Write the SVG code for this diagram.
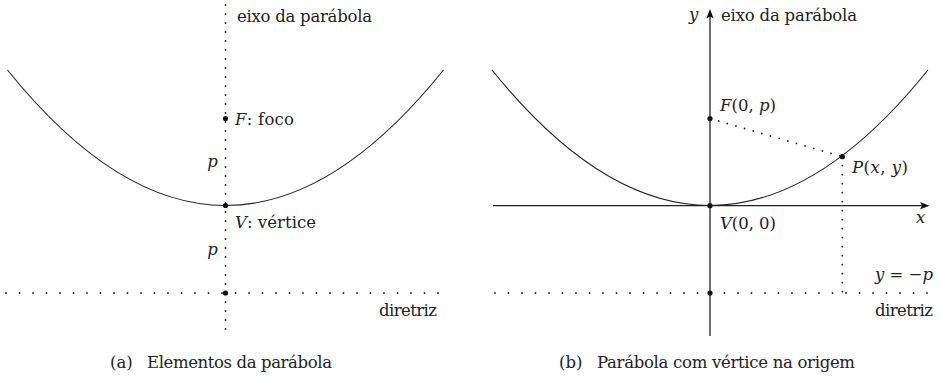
<svg xmlns="http://www.w3.org/2000/svg" width="941" height="377" viewBox="0 0 941 377">
<style>
text{font-family:'DejaVu Serif',serif;font-size:16.5px;fill:#222}
.m{font-style:italic}
.curve{fill:none;stroke:#222;stroke-width:1.1}
.axis{fill:none;stroke:#222;stroke-width:1.3}
.dv{fill:none;stroke:#222;stroke-width:1.8;stroke-linecap:round;stroke-dasharray:0 9}
.dh{fill:none;stroke:#222;stroke-width:1.8;stroke-linecap:round;stroke-dasharray:0 13.5}
.pt{fill:#111}
</style>
<g id="panel-a">
  <g id="connectors-a">
    <line class="dv" x1="225.5" y1="5" x2="225.5" y2="337"/>
    <line class="dh" x1="6" y1="293" x2="445" y2="293"/>
    <path class="curve" d="M7.5,70 Q225.5,341 443.5,70"/>
  </g>
  <g id="node-F-a"><circle class="pt" cx="225.5" cy="118.5" r="2.6"/><text x="235" y="125" textLength="59"><tspan class="m">F</tspan>: foco</text></g>
  <g id="node-V-a"><circle class="pt" cx="225.5" cy="205.5" r="2.6"/><text x="235" y="228" textLength="81"><tspan class="m">V</tspan>: vértice</text></g>
  <g id="node-D-a"><circle class="pt" cx="225.5" cy="293" r="2.6"/></g>
  <text x="237" y="22" textLength="135">eixo da parábola</text>
  <text class="m" x="212.5" y="167" text-anchor="middle" font-size="18">p</text>
  <text class="m" x="212.5" y="255" text-anchor="middle" font-size="18">p</text>
  <text x="379" y="316" textLength="58">diretriz</text>
  <text x="110" y="368" font-size="19">(a)</text>
  <text x="147" y="368" textLength="185">Elementos da parábola</text>
</g>
<g id="panel-b">
  <g id="connectors-b">
    <line class="axis" x1="710" y1="16" x2="710" y2="336"/>
    <path class="pt" d="M710,9 L713.6,18.5 L710,16.5 L706.4,18.5 Z"/>
    <line class="axis" x1="493" y1="205.7" x2="922" y2="205.7"/>
    <path class="pt" d="M929.5,205.7 L920,209.3 L922,205.7 L920,202.1 Z"/>
    <line class="dh" x1="495" y1="293" x2="935" y2="293"/>
    <line class="dv" x1="710" y1="118.5" x2="842.3" y2="156.7"/>
    <line class="dv" x1="842.3" y1="156.7" x2="842.3" y2="293"/>
    <path class="curve" d="M492,70 Q710,341 928,70"/>
  </g>
  <g id="node-F-b"><circle class="pt" cx="710" cy="118.5" r="2.6"/><text x="720" y="111" textLength="56"><tspan class="m">F</tspan>(0, <tspan class="m">p</tspan>)</text></g>
  <g id="node-V-b"><circle class="pt" cx="710" cy="205.7" r="2.6"/><text x="720" y="229" textLength="56"><tspan class="m">V</tspan>(0, 0)</text></g>
  <g id="node-P-b"><circle class="pt" cx="842.3" cy="156.7" r="2.6"/><text x="852" y="173" textLength="56"><tspan class="m">P</tspan>(<tspan class="m">x</tspan>, <tspan class="m">y</tspan>)</text></g>
  <g id="node-D-b"><circle class="pt" cx="710" cy="293" r="2.6"/></g>
  <text class="m" x="689" y="20" font-size="20">y</text>
  <text x="721" y="21" textLength="136">eixo da parábola</text>
  <text class="m" x="916" y="223" font-size="20">x</text>
  <text x="875" y="280" textLength="58"><tspan class="m">y</tspan> = −<tspan class="m">p</tspan></text>
  <text x="875" y="316" textLength="58">diretriz</text>
  <text x="559" y="368" font-size="19">(b)</text>
  <text x="597" y="368" textLength="258">Parábola com vértice na origem</text>
</g>
</svg>
